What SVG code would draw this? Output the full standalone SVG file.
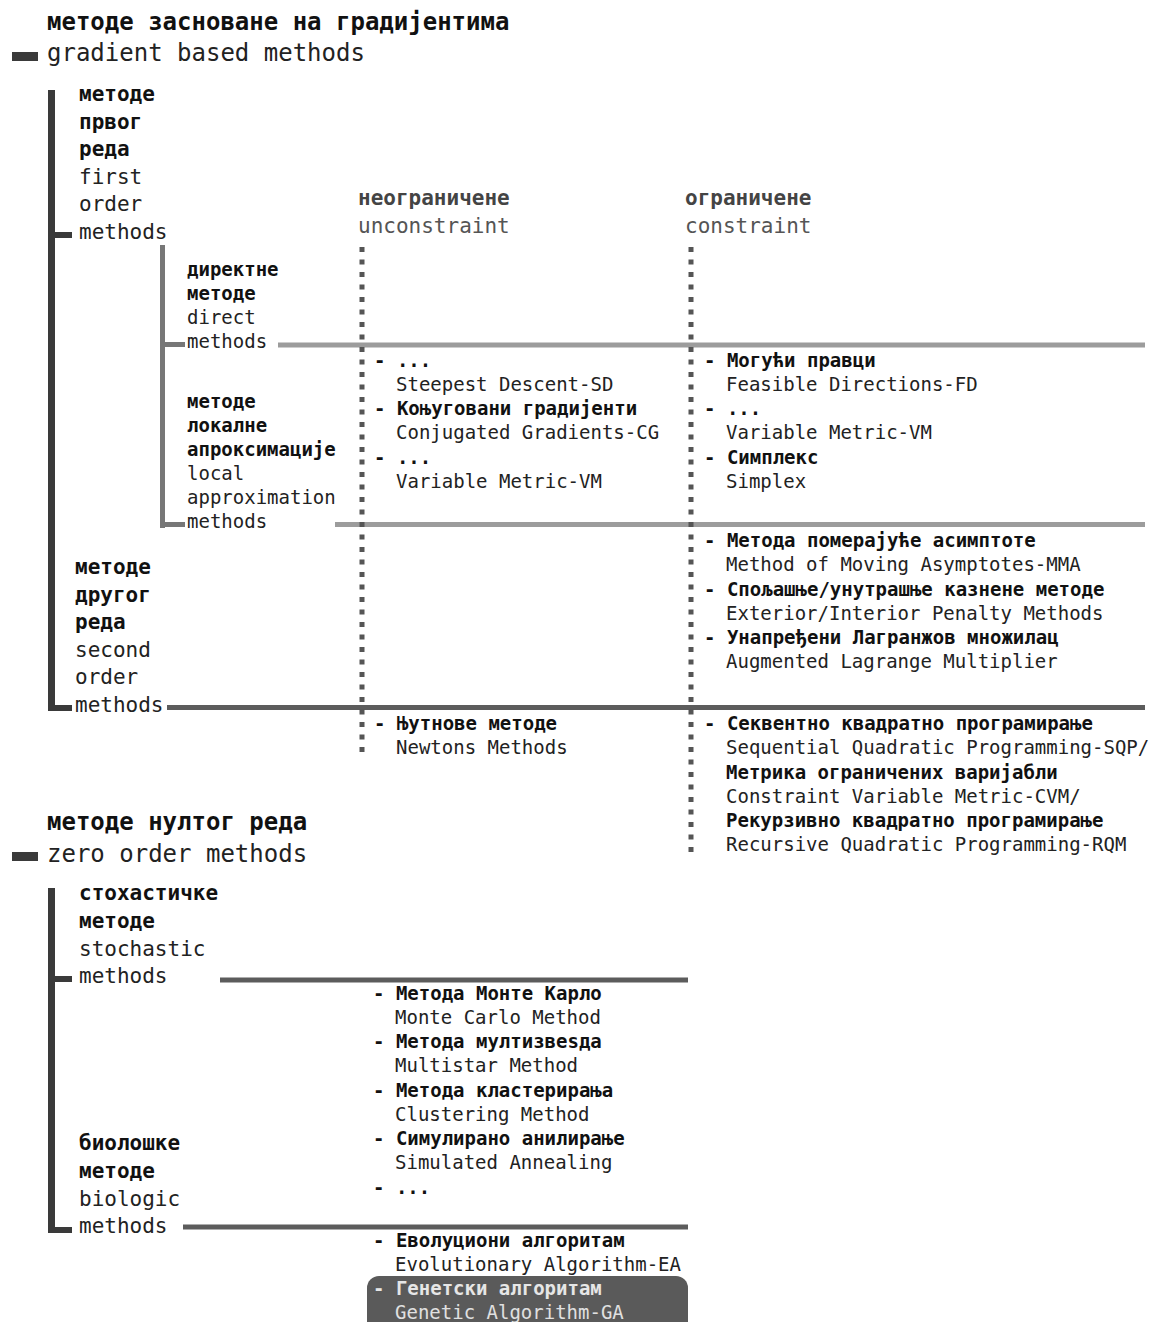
<svg xmlns="http://www.w3.org/2000/svg" width="1153" height="1322" viewBox="0 0 1153 1322">
<style>
text{font-family:"DejaVu Sans Mono","Liberation Mono",monospace;white-space:pre}
.hb{font-size:24px;font-weight:bold;fill:#111}
.hn{font-size:24px;fill:#222}
.tb{font-size:21px;font-weight:bold;fill:#111}
.tn{font-size:21px;fill:#222}
.sb{font-size:19px;font-weight:bold;fill:#111}
.sn{font-size:19px;fill:#222}
.cb{font-size:21px;font-weight:bold;fill:#444}
.cn{font-size:21px;fill:#555}
.lb{font-size:19px;font-weight:bold;fill:#111}
.ln{font-size:19px;fill:#222}
.wb{font-size:19px;font-weight:bold;fill:#e6e6e6}
.wn{font-size:19px;fill:#e0e0e0}
.dark{fill:#3a3a3a}
.mid{fill:#777}
.hd{stroke:#5c5c5c;stroke-width:5;fill:none}
.hl{stroke:#9c9c9c;stroke-width:5;fill:none}
.dot{stroke:#555;stroke-width:5;stroke-dasharray:5 7.5;fill:none}
</style>
<rect width="1153" height="1322" fill="#fff"/>

<g id="connectors">
  <rect class="dark" x="12" y="52" width="26" height="9"/>
  <rect class="dark" x="48" y="90" width="7" height="621"/>
  <rect class="dark" x="55" y="232" width="17" height="6"/>
  <rect class="dark" x="55" y="705" width="17" height="6"/>
  <rect class="mid" x="160" y="245" width="5" height="283"/>
  <rect class="mid" x="165" y="342" width="20" height="5"/>
  <rect class="mid" x="165" y="522" width="20" height="5"/>
  <line class="hl" x1="278" y1="345" x2="1145" y2="345"/>
  <line class="hl" x1="335" y1="524.5" x2="1145" y2="524.5"/>
  <line class="hd" x1="167" y1="707.5" x2="1145" y2="707.5"/>
  <line class="dot" x1="362" y1="247" x2="362" y2="754"/>
  <line class="dot" x1="691" y1="247" x2="691" y2="854"/>
  <rect class="dark" x="12" y="852" width="26" height="9"/>
  <rect class="dark" x="48" y="888" width="7" height="345"/>
  <rect class="dark" x="55" y="976" width="17" height="6"/>
  <rect class="dark" x="55" y="1227" width="17" height="6"/>
  <line class="hd" x1="220" y1="980" x2="688" y2="980"/>
  <line class="hd" x1="183" y1="1227" x2="688" y2="1227"/>
</g>

<g id="gradient-based">
  <text class="hb" x="47" y="30">методе засноване на градијентима</text>
  <text class="hn" x="47" y="61">gradient based methods</text>
</g>

<g id="first-order">
  <text class="tb" x="79" y="101">методе</text>
  <text class="tb" x="79" y="128.5">првог</text>
  <text class="tb" x="79" y="156">реда</text>
  <text class="tn" x="79" y="183.5">first</text>
  <text class="tn" x="79" y="211">order</text>
  <text class="tn" x="79" y="238.5">methods</text>
</g>

<g id="direct">
  <text class="sb" x="187" y="275.5">директне</text>
  <text class="sb" x="187" y="299.7">методе</text>
  <text class="sn" x="187" y="324">direct</text>
  <text class="sn" x="187" y="348">methods</text>
</g>

<g id="local-approx">
  <text class="sb" x="187" y="408">методе</text>
  <text class="sb" x="187" y="432">локалне</text>
  <text class="sb" x="187" y="456">апроксимације</text>
  <text class="sn" x="187" y="480">local</text>
  <text class="sn" x="187" y="504">approximation</text>
  <text class="sn" x="187" y="528">methods</text>
</g>

<g id="second-order">
  <text class="tb" x="75" y="574">методе</text>
  <text class="tb" x="75" y="601.5">другог</text>
  <text class="tb" x="75" y="629">реда</text>
  <text class="tn" x="75" y="656.5">second</text>
  <text class="tn" x="75" y="684">order</text>
  <text class="tn" x="75" y="711.5">methods</text>
</g>

<g id="unconstraint">
  <text class="cb" x="358" y="205">неограничене</text>
  <text class="cn" x="358" y="233">unconstraint</text>
</g>
<g id="constraint">
  <text class="cb" x="685" y="205">ограничене</text>
  <text class="cn" x="685" y="233">constraint</text>
</g>

<g id="uc-local">
  <text class="lb" x="374" y="367">- ...</text>
  <text class="ln" x="396" y="391">Steepest Descent-SD</text>
  <text class="lb" x="374" y="415">- Коњуговани градијенти</text>
  <text class="ln" x="396" y="439">Conjugated Gradients-CG</text>
  <text class="lb" x="374" y="464">- ...</text>
  <text class="ln" x="396" y="488">Variable Metric-VM</text>
</g>

<g id="c-local">
  <text class="lb" x="704" y="367">- Могући правци</text>
  <text class="ln" x="726" y="391">Feasible Directions-FD</text>
  <text class="lb" x="704" y="415">- ...</text>
  <text class="ln" x="726" y="439">Variable Metric-VM</text>
  <text class="lb" x="704" y="464">- Симплекс</text>
  <text class="ln" x="726" y="488">Simplex</text>
</g>

<g id="c-first">
  <text class="lb" x="704" y="547">- Метода померајуће асимптоте</text>
  <text class="ln" x="726" y="571">Method of Moving Asymptotes-MMA</text>
  <text class="lb" x="704" y="596">- Спољашње/унутрашње казнене методе</text>
  <text class="ln" x="726" y="620">Exterior/Interior Penalty Methods</text>
  <text class="lb" x="704" y="644">- Унапређени Лагранжов множилац</text>
  <text class="ln" x="726" y="668">Augmented Lagrange Multiplier</text>
</g>

<g id="uc-second">
  <text class="lb" x="374" y="730">- Њутнове методе</text>
  <text class="ln" x="396" y="754">Newtons Methods</text>
</g>

<g id="c-second">
  <text class="lb" x="704" y="730">- Секвентно квадратно програмирање</text>
  <text class="ln" x="726" y="754">Sequential Quadratic Programming-SQP/</text>
  <text class="lb" x="726" y="779">Метрика ограничених варијабли</text>
  <text class="ln" x="726" y="803">Constraint Variable Metric-CVM/</text>
  <text class="lb" x="726" y="827">Рекурзивно квадратно програмирање</text>
  <text class="ln" x="726" y="851">Recursive Quadratic Programming-RQM</text>
</g>

<g id="zero-order">
  <text class="hb" x="47" y="830">методе нултог реда</text>
  <text class="hn" x="47" y="862">zero order methods</text>
</g>

<g id="stochastic">
  <text class="tb" x="79" y="900">стохастичке</text>
  <text class="tb" x="79" y="928">методе</text>
  <text class="tn" x="79" y="955.5">stochastic</text>
  <text class="tn" x="79" y="983">methods</text>
</g>

<g id="biologic">
  <text class="tb" x="79" y="1150">биолошке</text>
  <text class="tb" x="79" y="1178">методе</text>
  <text class="tn" x="79" y="1205.5">biologic</text>
  <text class="tn" x="79" y="1233">methods</text>
</g>

<g id="stochastic-list">
  <text class="lb" x="373" y="1000">- Метода Монте Карло</text>
  <text class="ln" x="395" y="1024">Monte Carlo Method</text>
  <text class="lb" x="373" y="1048">- Метода мултизвеsда</text>
  <text class="ln" x="395" y="1072">Multistar Method</text>
  <text class="lb" x="373" y="1097">- Метода кластерирања</text>
  <text class="ln" x="395" y="1121">Clustering Method</text>
  <text class="lb" x="373" y="1145">- Симулирано анилирање</text>
  <text class="ln" x="395" y="1169">Simulated Annealing</text>
  <text class="lb" x="373" y="1194">- ...</text>
</g>

<g id="biologic-list">
  <text class="lb" x="373" y="1247">- Еволуциони алгоритам</text>
  <text class="ln" x="395" y="1271">Evolutionary Algorithm-EA</text>
</g>

<g id="genetic">
  <rect x="367" y="1276" width="321" height="58" rx="12" fill="#5a5a5a"/>
  <text class="wb" x="373" y="1295">- Генетски алгоритам</text>
  <text class="wn" x="395" y="1319">Genetic Algorithm-GA</text>
</g>
</svg>
